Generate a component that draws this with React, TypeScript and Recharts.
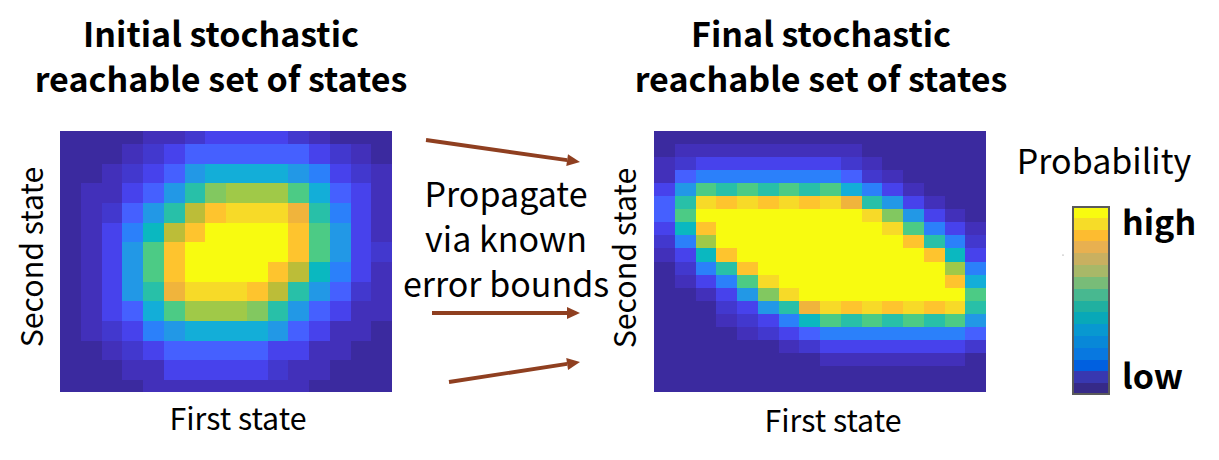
import { BarChart, Bar, XAxis, YAxis, Cell } from 'recharts';

// colour levels of the heatmaps, low to high
const LEVEL_COLORS = [
  '#3b2a9f', '#4230ba', '#4238ce', '#4742ec', '#4560ff', '#2b80fa', '#2298e6', '#13aed8', '#0ab8c0',
  '#28c0a8', '#4ccb85', '#82c860', '#a0c948', '#bcbd38', '#f0b43c', '#fec42e', '#f7da28', '#f8fb10',
];

// rows top to bottom, columns left to right
const INITIAL_SET = [
  [0, 0, 0, 0, 1, 1, 2, 3, 3, 3, 3, 2, 1, 0, 0, 0],
  [0, 0, 0, 1, 2, 3, 4, 4, 4, 4, 4, 4, 3, 2, 1, 0],
  [0, 0, 1, 2, 3, 4, 6, 7, 7, 7, 7, 6, 5, 3, 2, 1],
  [0, 1, 1, 3, 4, 6, 9, 11, 12, 12, 12, 10, 7, 4, 3, 1],
  [0, 1, 2, 4, 6, 9, 13, 15, 16, 16, 16, 14, 9, 5, 3, 1],
  [0, 1, 3, 5, 8, 13, 15, 17, 17, 17, 17, 15, 10, 6, 3, 1],
  [0, 1, 3, 6, 10, 15, 17, 17, 17, 17, 17, 15, 10, 6, 3, 2],
  [0, 1, 3, 6, 10, 15, 17, 17, 17, 17, 15, 13, 8, 5, 3, 1],
  [0, 1, 3, 6, 9, 14, 16, 16, 16, 15, 13, 9, 6, 4, 2, 1],
  [0, 1, 3, 4, 7, 10, 12, 12, 12, 11, 9, 6, 4, 3, 1, 1],
  [0, 1, 2, 3, 5, 6, 7, 7, 7, 7, 6, 4, 3, 1, 1, 0],
  [0, 0, 1, 2, 3, 4, 4, 4, 4, 4, 3, 3, 1, 1, 0, 0],
  [0, 0, 0, 1, 1, 3, 3, 3, 3, 3, 2, 1, 1, 0, 0, 0],
  [0, 0, 0, 0, 1, 1, 1, 1, 1, 1, 1, 1, 0, 0, 0, 0],
];

const FINAL_SET = [
  [0, 0, 0, 0, 0, 0, 0, 0, 0, 0, 0, 0, 0, 0, 0, 0],
  [0, 1, 1, 1, 1, 1, 1, 1, 1, 1, 0, 0, 0, 0, 0, 0],
  [1, 2, 3, 3, 3, 3, 3, 3, 3, 2, 1, 0, 0, 0, 0, 0],
  [1, 4, 5, 5, 5, 5, 5, 5, 5, 4, 2, 1, 0, 0, 0, 0],
  [3, 6, 10, 9, 10, 9, 10, 9, 10, 7, 5, 3, 1, 0, 0, 0],
  [4, 9, 16, 15, 16, 15, 16, 15, 16, 14, 9, 6, 3, 1, 0, 0],
  [4, 10, 17, 17, 17, 17, 17, 17, 17, 17, 16, 11, 6, 3, 1, 0],
  [3, 8, 15, 17, 17, 17, 17, 17, 17, 17, 17, 16, 10, 5, 3, 1],
  [2, 5, 12, 17, 17, 17, 17, 17, 17, 17, 17, 17, 15, 9, 5, 2],
  [1, 3, 8, 15, 17, 17, 17, 17, 17, 17, 17, 17, 17, 15, 8, 3],
  [0, 2, 5, 9, 15, 17, 17, 17, 17, 17, 17, 17, 17, 17, 12, 5],
  [0, 1, 3, 5, 10, 16, 17, 17, 17, 17, 17, 17, 17, 17, 15, 7],
  [0, 0, 1, 3, 6, 11, 16, 17, 17, 17, 17, 17, 17, 17, 17, 10],
  [0, 0, 0, 2, 3, 6, 9, 14, 16, 15, 16, 15, 16, 15, 16, 9],
  [0, 0, 0, 1, 2, 3, 5, 8, 10, 9, 10, 9, 10, 9, 10, 6],
  [0, 0, 0, 0, 1, 2, 3, 4, 5, 5, 5, 5, 5, 5, 5, 4],
  [0, 0, 0, 0, 0, 0, 1, 2, 3, 3, 3, 3, 3, 3, 3, 2],
  [0, 0, 0, 0, 0, 0, 0, 0, 1, 1, 1, 1, 1, 1, 1, 0],
  [0, 0, 0, 0, 0, 0, 0, 0, 0, 0, 0, 0, 0, 0, 0, 0],
  [0, 0, 0, 0, 0, 0, 0, 0, 0, 0, 0, 0, 0, 0, 0, 0],
];

// colour bar bands, top to bottom
const BAR_COLORS = [
  '#f8fb10', '#f6dc28', '#fdbc30', '#e8b050', '#c9b060', '#a8b868', '#78bc78', '#48b890',
  '#20b0a0', '#08a8b8', '#0898d0', '#0888d8', '#0878e0', '#0060e0', '#3838b0', '#362a88',
];

const FONT = '"Noto Sans CJK JP", "Noto Sans", sans-serif';

function Heatmap({ rows, left, top, width, height, domain }: {
  rows: number[][]; left: number; top: number; width: number; height: number; domain: [number, number];
}) {
  // one stacked bar per column, every row is a unit segment of the stack
  const data = rows[0].map((_, col) => {
    const entry: Record<string, number | string> = { col: String(col) };
    rows.forEach((_, r) => { entry[`r${r}`] = 1; });
    return entry;
  });
  return (
    <div style={{ position: 'absolute', left, top, width, height, overflow: 'hidden', filter: 'blur(0.6px)' }}>
      <BarChart width={width} height={height} data={data} barCategoryGap={0} margin={{ top: 0, right: 0, bottom: 0, left: 0 }}>
        <XAxis dataKey="col" hide />
        <YAxis type="number" hide reversed domain={domain} allowDataOverflow />
        {rows.map((row, r) => (
          <Bar key={r} dataKey={`r${r}`} stackId="a" isAnimationActive={false} shapeRendering="crispEdges">
            {row.map((level, c) => (
              <Cell key={c} fill={LEVEL_COLORS[level]} shapeRendering="crispEdges" />
            ))}
          </Bar>
        ))}
      </BarChart>
    </div>
  );
}

function ColorBar() {
  const entry: Record<string, number | string> = { name: 'p' };
  BAR_COLORS.forEach((_, i) => { entry[`b${i}`] = 1; });
  return (
    <div style={{ position: 'absolute', left: 1072, top: 206, width: 38, height: 189, filter: 'blur(0.5px)' }}>
      <BarChart width={38} height={189} data={[entry]} barCategoryGap={0} margin={{ top: 0, right: 0, bottom: 0, left: 0 }}>
        <XAxis dataKey="name" hide />
        <YAxis type="number" hide reversed domain={[0, BAR_COLORS.length]} />
        {BAR_COLORS.map((color, i) => (
          <Bar key={i} dataKey={`b${i}`} stackId="a" fill={color} shapeRendering="crispEdges" isAnimationActive={false} />
        ))}
      </BarChart>
      <div style={{ position: 'absolute', inset: 0, border: '2px solid #5a5a5a', boxSizing: 'border-box' }} />
    </div>
  );
}

function Arrow({ x1, y1, x2, y2 }: { x1: number; y1: number; x2: number; y2: number }) {
  const angle = Math.atan2(y2 - y1, x2 - x1);
  const len = 13;
  const half = 6;
  const bx = x2 - len * Math.cos(angle);
  const by = y2 - len * Math.sin(angle);
  const px = half * Math.sin(angle);
  const py = half * Math.cos(angle);
  return (
    <g>
      <line x1={x1} y1={y1} x2={bx} y2={by} stroke="#8f3f20" strokeWidth={3.8} />
      <polygon points={`${x2},${y2} ${bx + px},${by - py} ${bx - px},${by + py}`} fill="#8f3f20" />
    </g>
  );
}

export default function App() {
  return (
    <div style={{ position: 'absolute', left: 0, top: 0, width: 1219, height: 460, background: '#fff', overflow: 'hidden' }}>
      <Heatmap rows={INITIAL_SET} left={60} top={131} width={332} height={261} domain={[0.34, 13.61]} />
      <Heatmap rows={FINAL_SET} left={654} top={131} width={332} height={261} domain={[0, 20]} />
      <ColorBar />
      <svg width={1219} height={460} style={{ position: 'absolute', left: 0, top: 0 }} fontFamily={FONT} fill="#000">
        <g fontSize={34} fontWeight={700} textAnchor="middle">
          <text x={221} y={47}>Initial stochastic</text>
          <text x={221} y={92}>reachable set of states</text>
          <text x={821} y={47}>Final stochastic</text>
          <text x={821} y={92}>reachable set of states</text>
        </g>
        <g fontSize={30.3}>
          <text x={238} y={430} textAnchor="middle">First state</text>
          <text x={833} y={432} textAnchor="middle">First state</text>
          <text x={0} y={0} textAnchor="middle" transform="translate(43,257) rotate(-90)">Second state</text>
          <text x={0} y={0} textAnchor="middle" transform="translate(636,258) rotate(-90)">Second state</text>
        </g>
        <g fontSize={34} textAnchor="middle">
          <text x={506} y={207}>Propagate</text>
          <text x={506} y={252}>via known</text>
          <text x={506} y={297}>error bounds</text>
          <text x={1104} y={174}>Probability</text>
        </g>
        <g fontSize={34} fontWeight={700}>
          <text x={1122} y={235}>high</text>
          <text x={1122} y={389}>low</text>
        </g>
        <Arrow x1={426} y1={140} x2={580} y2={162} />
        <Arrow x1={432} y1={313} x2={580} y2={313} />
        <Arrow x1={449} y1={382} x2={580} y2={362} />
        <circle cx={1063} cy={255} r={0.6} fill="#777" />
      </svg>
    </div>
  );
}
